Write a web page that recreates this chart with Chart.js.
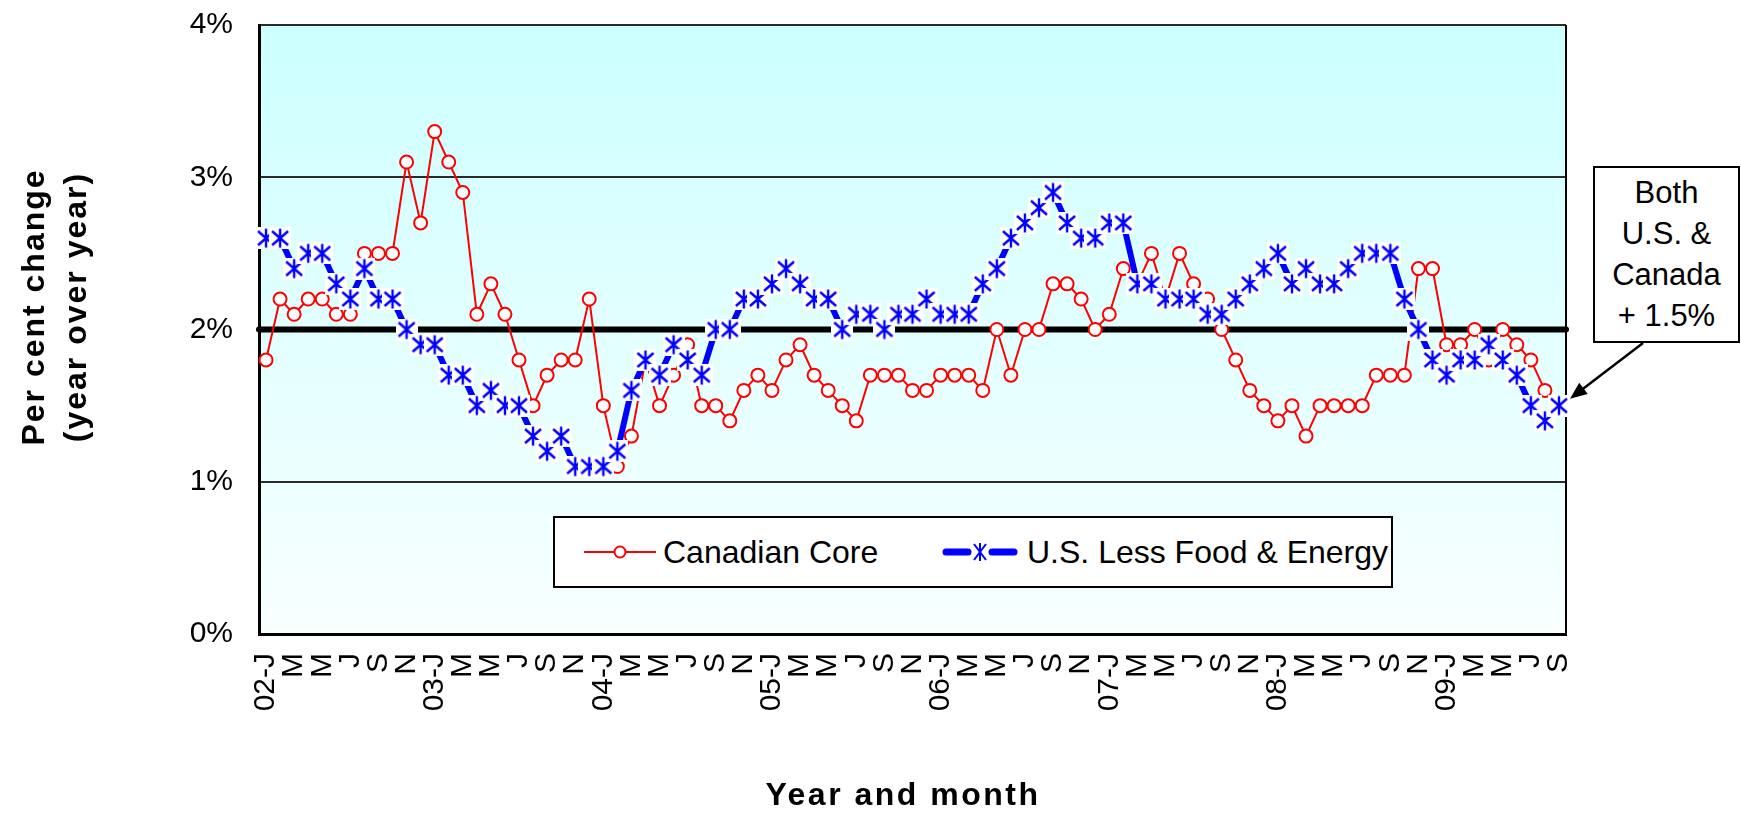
<!DOCTYPE html>
<html>
<head>
<meta charset="utf-8">
<script src="https://cdn.jsdelivr.net/npm/chart.js@4.4.1/dist/chart.umd.min.js"></script>
<style>
  html, body { margin: 0; padding: 0; background: #ffffff; }
  #wrap { position: relative; width: 1741px; height: 813px; overflow: hidden; }
  canvas { display: block; }
  #legend {
    position: absolute; left: 553px; top: 516px; width: 836px; height: 68px;
    border: 2px solid #000; background: #fff;
    font-family: "Liberation Sans", Arial, sans-serif; font-size: 32px; color: #000;
  }
  .item { position: absolute; top: 0; height: 68px; display: flex; align-items: center; white-space: nowrap; }
  .item svg { display: block; margin-right: 7px; }
  #note {
    position: absolute; left: 1593px; top: 166px; width: 143px; height: 169px; padding-top: 4px;
    border: 2px solid #000; background: #fff; text-align: center;
    font-family: "Liberation Sans", Arial, sans-serif; font-size: 31px; line-height: 41px; color: #000;
  }
  #ytitle {
    position: absolute; left: -106px; top: 265px; width: 320px; height: 84px;
    transform: rotate(-90deg); transform-origin: 50% 50%;
    text-align: center; font-family: "Liberation Sans", Arial, sans-serif; font-weight: bold;
    font-size: 32px; line-height: 42px; letter-spacing: 2px; color: #000; white-space: nowrap;
  }
  #xtitle {
    position: absolute; left: 653px; top: 773px; width: 500px; height: 42px;
    text-align: center; font-family: "Liberation Sans", Arial, sans-serif; font-weight: bold;
    font-size: 32px; line-height: 42px; letter-spacing: 2.5px; color: #000; white-space: nowrap;
  }
</style>
</head>
<body>
<div id="wrap">
  <canvas id="c" width="1741" height="813"></canvas>
  <div id="ytitle">Per cent change<br>(year over year)</div>
  <div id="xtitle">Year and month</div>
  <div id="legend">
    <div class="item" style="left:29px;">
      <svg width="72" height="20" viewBox="0 0 72 20">
        <line x1="0" y1="10" x2="72" y2="10" stroke="#ff0000" stroke-width="2"/>
        <circle cx="36" cy="10" r="5.5" fill="#fff" stroke="#ff0000" stroke-width="2"/>
      </svg><span>Canadian Core</span>
    </div>
    <div class="item" style="left:385px;">
      <svg width="80" height="24" viewBox="0 0 80 24">
        <line x1="6" y1="12" x2="28" y2="12" stroke="#0000ff" stroke-width="7" stroke-linecap="round"/>
        <line x1="52" y1="12" x2="74" y2="12" stroke="#0000ff" stroke-width="7" stroke-linecap="round"/>
        <line x1="40" y1="3" x2="40" y2="21" stroke="#0000ff" stroke-width="2"/>
        <line x1="34" y1="4" x2="46" y2="20" stroke="#0000ff" stroke-width="2"/>
        <line x1="46" y1="4" x2="34" y2="20" stroke="#0000ff" stroke-width="2"/>
      </svg><span>U.S. Less Food &amp; Energy</span>
    </div>
  </div>
  <div id="note">Both<br>U.S. &amp;<br>Canada<br>+ 1.5%</div>
</div>
<script>
// ---------------- data ----------------
const yearLabels = ['02', '03', '04', '05', '06', '07', '08', '09'];
const monthLetters = ['J', 'F', 'M', 'A', 'M', 'J', 'J', 'A', 'S', 'O', 'N', 'D'];
const lastYearMonths = 9; // data ends September 2009

const canadianCore = [
  1.8, 2.2, 2.1, 2.2, 2.2, 2.1, 2.1, 2.5, 2.5, 2.5, 3.1, 2.7,
  3.3, 3.1, 2.9, 2.1, 2.3, 2.1, 1.8, 1.5, 1.7, 1.8, 1.8, 2.2,
  1.5, 1.1, 1.3, 1.8, 1.5, 1.7, 1.9, 1.5, 1.5, 1.4, 1.6, 1.7,
  1.6, 1.8, 1.9, 1.7, 1.6, 1.5, 1.4, 1.7, 1.7, 1.7, 1.6, 1.6,
  1.7, 1.7, 1.7, 1.6, 2.0, 1.7, 2.0, 2.0, 2.3, 2.3, 2.2, 2.0,
  2.1, 2.4, 2.3, 2.5, 2.2, 2.5, 2.3, 2.2, 2.0, 1.8, 1.6, 1.5,
  1.4, 1.5, 1.3, 1.5, 1.5, 1.5, 1.5, 1.7, 1.7, 1.7, 2.4, 2.4,
  1.9, 1.9, 2.0, 1.8, 2.0, 1.9, 1.8, 1.6, 1.5
];

const usLessFoodEnergy = [
  2.6, 2.6, 2.4, 2.5, 2.5, 2.3, 2.2, 2.4, 2.2, 2.2, 2.0, 1.9,
  1.9, 1.7, 1.7, 1.5, 1.6, 1.5, 1.5, 1.3, 1.2, 1.3, 1.1, 1.1,
  1.1, 1.2, 1.6, 1.8, 1.7, 1.9, 1.8, 1.7, 2.0, 2.0, 2.2, 2.2,
  2.3, 2.4, 2.3, 2.2, 2.2, 2.0, 2.1, 2.1, 2.0, 2.1, 2.1, 2.2,
  2.1, 2.1, 2.1, 2.3, 2.4, 2.6, 2.7, 2.8, 2.9, 2.7, 2.6, 2.6,
  2.7, 2.7, 2.3, 2.3, 2.2, 2.2, 2.2, 2.1, 2.1, 2.2, 2.3, 2.4,
  2.5, 2.3, 2.4, 2.3, 2.3, 2.4, 2.5, 2.5, 2.5, 2.2, 2.0, 1.8,
  1.7, 1.8, 1.8, 1.9, 1.8, 1.7, 1.5, 1.4, 1.5
];

const targetRate = 2.0;          // thick black reference line (per cent)
const yTickValues = [0, 1, 2, 3, 4];

// category labels: "02-J", "F", "M", ... built from the arrays above
const categories = [];
yearLabels.forEach((yy, yi) => {
  const n = (yi === yearLabels.length - 1) ? lastYearMonths : 12;
  for (let m = 0; m < n; m++) categories.push(m === 0 ? yy + '-' + monthLetters[m] : monthLetters[m]);
});

// ---------------- marker: blue asterisk on a white square ----------------
function makeAsterisk() {
  const s = 22, c = document.createElement('canvas');
  c.width = s; c.height = s;
  const g = c.getContext('2d');
  g.fillStyle = '#ffffff'; g.fillRect(0, 0, s, s);
  g.strokeStyle = '#0000ff'; g.lineWidth = 2.4;
  g.beginPath();
  g.moveTo(11, 1.5); g.lineTo(11, 20.5);
  g.moveTo(3, 4); g.lineTo(19, 18);
  g.moveTo(19, 4); g.lineTo(3, 18);
  g.stroke();
  return c;
}
const asterisk = makeAsterisk();

// ---------------- plugins ----------------
const bgPlugin = {
  id: 'bgPlot',
  beforeDraw(chart) {
    const { ctx, chartArea: a } = chart;
    const g = ctx.createLinearGradient(0, a.top, 0, a.bottom);
    g.addColorStop(0, '#ccffff');
    g.addColorStop(1, '#f8ffff');
    ctx.save();
    ctx.fillStyle = g;
    ctx.fillRect(a.left, a.top, a.right - a.left, a.bottom - a.top);
    ctx.restore();
  }
};

const refLinePlugin = {
  id: 'refLine',
  beforeDatasetsDraw(chart) {
    const { ctx, chartArea: a, scales } = chart;
    const y = scales.y.getPixelForValue(targetRate);
    ctx.save();
    ctx.strokeStyle = '#000'; ctx.lineWidth = 2;
    ctx.beginPath(); ctx.moveTo(a.right, a.top); ctx.lineTo(a.right, a.bottom); ctx.stroke();
    ctx.lineWidth = 6; ctx.lineCap = 'round';
    ctx.beginPath(); ctx.moveTo(a.left, y); ctx.lineTo(a.right, y); ctx.stroke();
    ctx.restore();
  }
};

const arrowPlugin = {
  id: 'noteArrow',
  afterDraw(chart) {
    const { ctx, scales } = chart;
    const last = usLessFoodEnergy.length - 1;
    const px = scales.x.getPixelForValue(last);
    const py = scales.y.getPixelForValue(usLessFoodEnergy[last]);
    const tx = px + 11, ty = py - 7;
    const sx = 1643, sy = 343;
    const ang = Math.atan2(ty - sy, tx - sx);
    const len = 17, half = 7;
    ctx.save();
    ctx.strokeStyle = '#000'; ctx.fillStyle = '#000'; ctx.lineWidth = 2.5;
    ctx.beginPath();
    ctx.moveTo(sx, sy);
    ctx.lineTo(tx - Math.cos(ang) * len * 0.8, ty - Math.sin(ang) * len * 0.8);
    ctx.stroke();
    ctx.beginPath();
    ctx.moveTo(tx, ty);
    ctx.lineTo(tx - Math.cos(ang) * len + Math.sin(ang) * half, ty - Math.sin(ang) * len - Math.cos(ang) * half);
    ctx.lineTo(tx - Math.cos(ang) * len - Math.sin(ang) * half, ty - Math.sin(ang) * len + Math.cos(ang) * half);
    ctx.closePath();
    ctx.fill();
    ctx.restore();
  }
};

// ---------------- chart ----------------
const FONT = '"Liberation Sans", Arial, sans-serif';
new Chart(document.getElementById('c').getContext('2d'), {
  type: 'line',
  data: {
    labels: categories,
    datasets: [
      {
        label: 'U.S. Less Food & Energy',
        data: usLessFoodEnergy,
        borderColor: '#0000ff',
        backgroundColor: '#0000ff',
        borderWidth: 6,
        tension: 0,
        pointStyle: asterisk,
        pointRadius: 10,
        pointHoverRadius: 10,
        order: 1
      },
      {
        label: 'Canadian Core',
        data: canadianCore,
        borderColor: '#ff0000',
        backgroundColor: '#ffffff',
        borderWidth: 2,
        tension: 0,
        pointStyle: 'circle',
        pointRadius: 6.5,
        pointHoverRadius: 6.5,
        pointBorderWidth: 2,
        pointBorderColor: '#ff0000',
        pointBackgroundColor: '#ffffff',
        order: 2
      }
    ]
  },
  options: {
    responsive: false,
    animation: false,
    devicePixelRatio: 1,
    events: [],
    layout: { padding: { top: 25, right: 175, bottom: 0, left: 0 } },
    plugins: { legend: { display: false }, tooltip: { enabled: false } },
    scales: {
      x: {
        type: 'category',
        offset: true,
        grid: { display: false, drawTicks: false },
        border: { display: true, color: '#000', width: 3 },
        ticks: {
          autoSkip: false, maxRotation: 90, minRotation: 90, padding: 19,
          color: '#000', font: { family: FONT, size: 30 },
          callback: (v, i) => (i % 2 === 0 ? categories[i] : null)
        },
        title: { display: false },
        afterFit(s) { s.height = 179; }
      },
      y: {
        min: yTickValues[0], max: yTickValues[yTickValues.length - 1],
        afterBuildTicks(s) { s.ticks = yTickValues.map(v => ({ value: v })); },
        grid: { color: '#2a2a2a', lineWidth: 2, drawTicks: false },
        border: { display: true, color: '#000', width: 3 },
        ticks: {
          padding: 26, color: '#000', font: { family: FONT, size: 30 },
          callback: v => v + '%'
        },
        title: { display: false },
        afterFit(s) { s.width = 259; s.paddingTop = 10; s.paddingBottom = 10; }
      }
    }
  },
  plugins: [bgPlugin, refLinePlugin, arrowPlugin]
});
</script>
</body>
</html>
